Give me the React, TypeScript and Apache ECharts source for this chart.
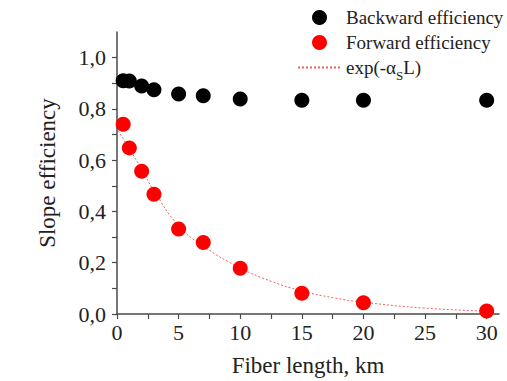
import React, { useEffect, useRef } from "react";
import * as echarts from "echarts";

const lengthsKm = [0.5, 1, 2, 3, 5, 7, 10, 15, 20, 30];
const backwardEff = [0.91, 0.909, 0.889, 0.875, 0.858, 0.851, 0.839, 0.834, 0.834, 0.834];
const forwardEff = [0.74, 0.648, 0.557, 0.467, 0.332, 0.279, 0.178, 0.081, 0.044, 0.012];
const fitLengths = [0.1, 1, 2, 3, 5, 7, 10, 12.5, 15, 17.5, 20, 25, 30];
const fitValues = [0.715, 0.645, 0.565, 0.48, 0.345, 0.265, 0.18, 0.128, 0.09, 0.064, 0.046, 0.023, 0.011];
const xTickValues = [0, 2.5, 5, 7.5, 10, 12.5, 15, 17.5, 20, 22.5, 25, 27.5, 30];
const yTickValues = [0, 0.1, 0.2, 0.3, 0.4, 0.5, 0.6, 0.7, 0.8, 0.9, 1.0];

const FONT = "Liberation Serif";
const AXIS_COLOR = "#4a4a4a";
const TEXT_COLOR = "#222";
const labelRich = { t: { fontFamily: FONT, fontSize: 22, color: TEXT_COLOR } };

export default function App() {
  const ref = useRef<HTMLDivElement>(null);
  useEffect(() => {
    if (!ref.current) return;
    const chart = echarts.init(ref.current, undefined, { renderer: "svg" });
    const pair = (xs: number[], ys: number[]) => xs.map((x, i) => [x, ys[i]]);
    chart.setOption({
      animation: false,
      backgroundColor: "#fff",
      textStyle: { fontFamily: FONT },
      grid: { left: 117, right: 8, top: 32, bottom: 67, outerBoundsMode: "none", containLabel: false },
      legend: {
        orient: "vertical",
        left: 292,
        top: 3,
        itemWidth: 43,
        itemHeight: 15,
        itemGap: 6,
        data: [
          { name: "Backward efficiency" },
          { name: "Forward efficiency" },
          { name: "exp", itemStyle: { opacity: 0 } },
        ],
        formatter: (name: string) => (name === "exp" ? "exp(-α{sub|S}L)" : name),
        textStyle: {
          fontFamily: FONT,
          fontSize: 19,
          color: TEXT_COLOR,
          rich: {
            sub: { fontFamily: FONT, fontSize: 13, color: TEXT_COLOR, padding: [16, 0, 0, 0] },
          },
        },
      },
      xAxis: {
        type: "value",
        min: 0,
        max: 31,
        interval: 5,
        name: "Fiber length, km",
        nameLocation: "middle",
        nameGap: 40,
        nameTextStyle: { fontFamily: FONT, fontSize: 23, color: TEXT_COLOR },
        splitLine: { show: false },
        axisLine: { show: true, lineStyle: { color: AXIS_COLOR, width: 1.5 } },
        axisTick: { show: true, inside: false, length: 5, customValues: xTickValues, lineStyle: { color: AXIS_COLOR, width: 1.2 } },
        axisLabel: {
          margin: 7,
          fontFamily: FONT,
          fontSize: 22,
          color: TEXT_COLOR,
          rich: labelRich,
          formatter: (v: number) => (v % 5 === 0 ? `{t|${v}}` : ""),
        },
      },
      yAxis: {
        type: "value",
        min: 0,
        max: 1.1,
        interval: 0.2,
        name: "Slope efficiency",
        nameLocation: "middle",
        nameGap: 58,
        nameTextStyle: { fontFamily: FONT, fontSize: 23, color: TEXT_COLOR },
        splitLine: { show: false },
        axisLine: { show: true, lineStyle: { color: AXIS_COLOR, width: 1.5 } },
        axisTick: { show: true, inside: false, length: 5, customValues: yTickValues, lineStyle: { color: AXIS_COLOR, width: 1.2 } },
        axisLabel: {
          margin: 11,
          fontFamily: FONT,
          fontSize: 22,
          color: TEXT_COLOR,
          rich: labelRich,
          formatter: (v: number) =>
            Math.abs(v - 1.1) < 1e-6 ? "" : `{t|${v.toFixed(1).replace(".", ",")}}`,
        },
      },
      series: [
        {
          name: "exp",
          type: "line",
          data: pair(fitLengths, fitValues),
          smooth: true,
          symbol: "none",
          z: 1,
          lineStyle: { color: "#f04040", width: 1, type: [2, 2], opacity: 0.85 },
          itemStyle: { color: "#f04040" },
        },
        {
          name: "Backward efficiency",
          type: "scatter",
          data: pair(lengthsKm, backwardEff),
          symbol: "circle",
          symbolSize: 15,
          z: 3,
          itemStyle: { color: "#000", opacity: 1 },
        },
        {
          name: "Forward efficiency",
          type: "scatter",
          data: pair(lengthsKm, forwardEff),
          symbol: "circle",
          symbolSize: 15,
          z: 3,
          itemStyle: { color: "#ff0000", opacity: 1 },
        },
      ],
    });
    return () => chart.dispose();
  }, []);
  return <div ref={ref} style={{ width: 507, height: 381, position: "absolute", left: 0, top: 0 }} />;
}
